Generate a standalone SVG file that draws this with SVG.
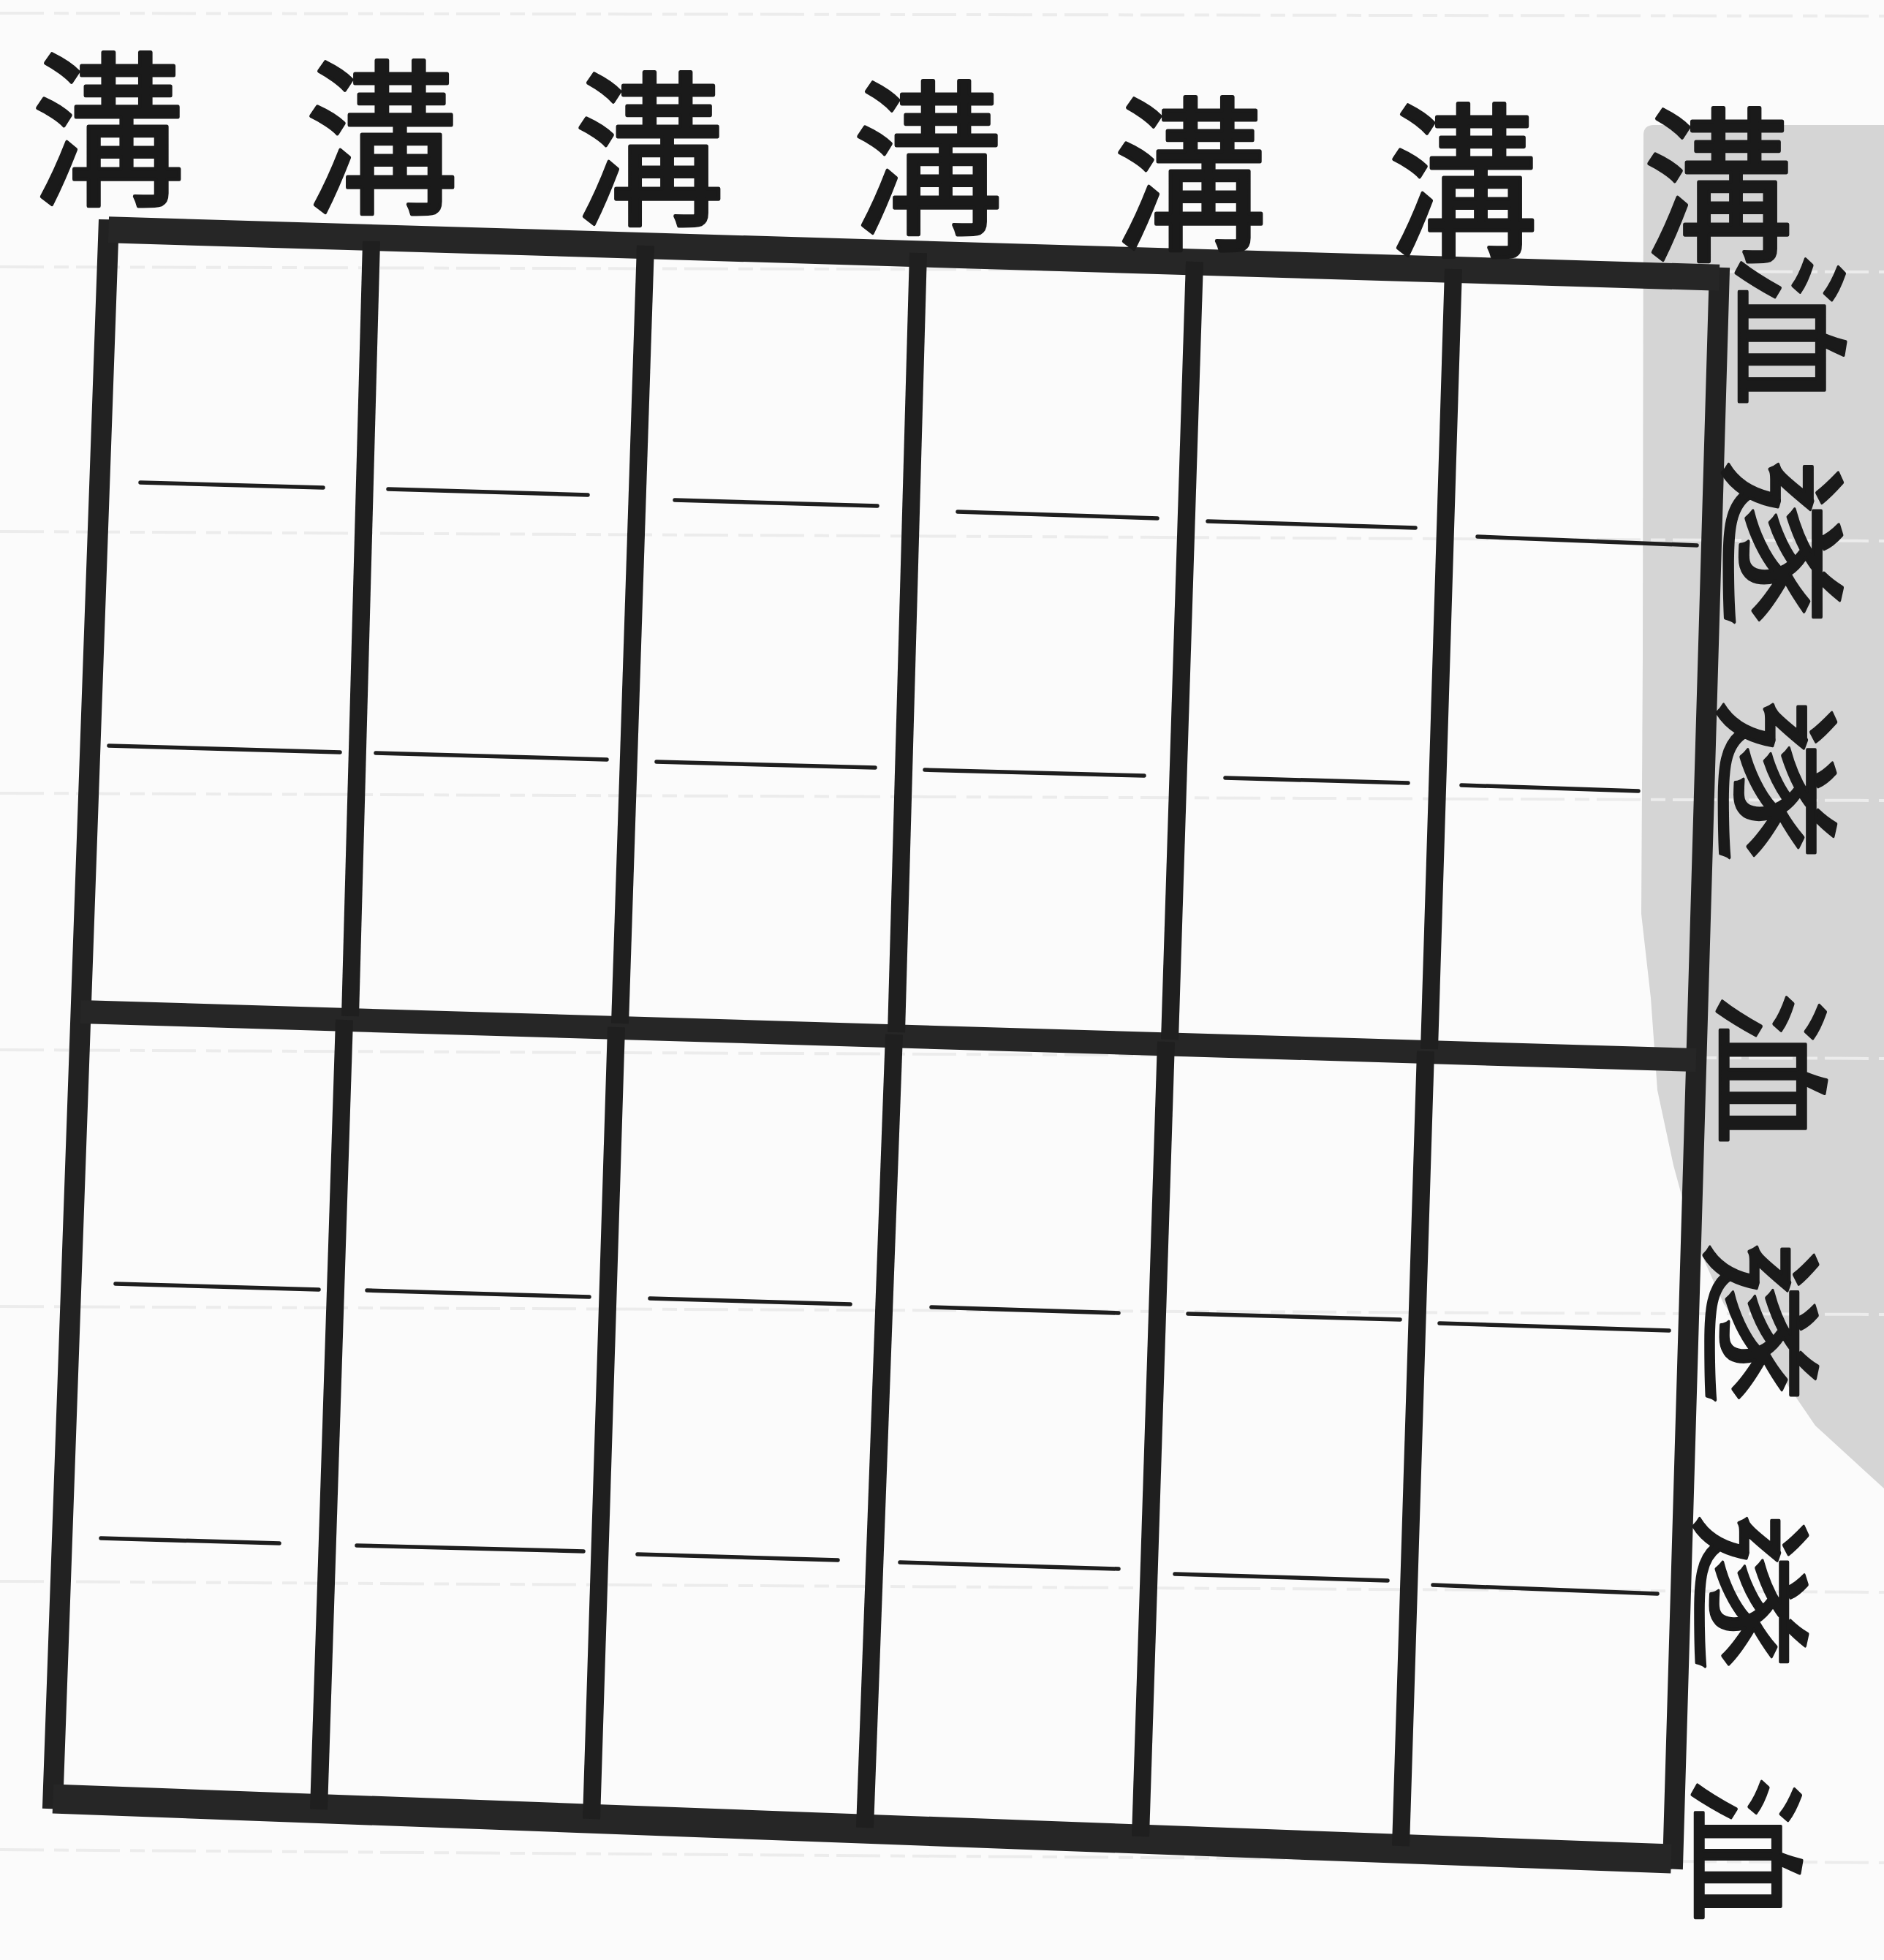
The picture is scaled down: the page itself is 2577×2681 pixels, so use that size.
<svg xmlns="http://www.w3.org/2000/svg" width="2577" height="2681" viewBox="0 0 2577 2681">
<style>
.bg{fill:#fbfbfb}
.patch{fill:#d5d5d5}
.faint{stroke:#ececec;stroke-width:4;fill:none;stroke-dasharray:60 14 20 10}
.frame{stroke:#222;stroke-width:28;stroke-linejoin:miter;fill:none}
.edge{stroke:#262626;stroke-linecap:butt;fill:none}
.thick{stroke:#262626;stroke-width:32;stroke-linecap:butt;fill:none}
.div{stroke:#1f1f1f;stroke-width:24;stroke-linecap:butt;fill:none}
.thin{stroke:#1e1e1e;stroke-width:5.5;stroke-linecap:round;fill:none}
.lbl{font-family:"Noto Sans CJK TC","Noto Sans CJK SC",sans-serif;font-weight:400;fill:#1a1a1a;stroke:#1a1a1a;stroke-width:5;stroke-linejoin:round;text-anchor:middle}
.top{font-size:228px}
.side{font-size:235px}
</style>
<rect class="bg" x="0" y="0" width="2577" height="2681"/>
<g id="paper-patch">
<path class="patch" d="M2248,185 Q2248,171 2262,171 L2577,171 L2577,2036 L2483,1950 L2440,1887 L2358,1784 L2314,1686 L2289,1594 L2267,1491 L2258,1365 L2245,1250 L2247,900 Z"/>
</g>
<g id="scan-lines">
<path class="faint" d="M0,18 L2577,22"/>
<path class="faint" d="M0,365 L2577,372"/>
<path class="faint" d="M0,727 L2577,740"/>
<path class="faint" d="M0,1085 L2577,1095"/>
<path class="faint" d="M0,1436 L2577,1448"/>
<path class="faint" d="M0,1787 L2577,1798"/>
<path class="faint" d="M0,2163 L2577,2178"/>
<path class="faint" d="M0,2530 L2577,2548"/>
</g>
<g id="field-grid">
<g id="outer-border">
<path class="frame" d="M148.5,314.3 L2351.7,379.8 L2288.3,2542.7 L72.4,2460.4 Z"/>
<line class="edge" stroke-width="36" x1="148.5" y1="314.3" x2="2351.7" y2="379.8"/>
<line class="edge" stroke-width="40" x1="72.4" y1="2460.4" x2="2286" y2="2542.6"/>
</g>
<g id="middle-ditch">
<line class="thick" x1="110" y1="1384" x2="2320" y2="1450"/>
</g>
<g id="dividers">
<line class="div" x1="508" y1="330" x2="479" y2="1390"/>
<line class="div" x1="471" y1="1395" x2="436" y2="2475"/>
<line class="div" x1="883" y1="336" x2="848" y2="1400"/>
<line class="div" x1="843" y1="1405" x2="809" y2="2488"/>
<line class="div" x1="1256" y1="346" x2="1226" y2="1412"/>
<line class="div" x1="1223" y1="1415" x2="1183" y2="2500"/>
<line class="div" x1="1634" y1="358" x2="1600" y2="1422"/>
<line class="div" x1="1595" y1="1425" x2="1560" y2="2512"/>
<line class="div" x1="1988" y1="368" x2="1955" y2="1435"/>
<line class="div" x1="1950" y1="1438" x2="1916" y2="2525"/>
</g>
<g id="thin-rows">
<line class="thin" x1="192" y1="660" x2="442" y2="667"/>
<line class="thin" x1="531" y1="669" x2="804" y2="677"/>
<line class="thin" x1="923" y1="684" x2="1200" y2="692"/>
<line class="thin" x1="1310" y1="700" x2="1583" y2="709"/>
<line class="thin" x1="1652" y1="713" x2="1936" y2="722"/>
<line class="thin" x1="2021" y1="734" x2="2321" y2="746"/>

<line class="thin" x1="149" y1="1020" x2="465" y2="1029"/>
<line class="thin" x1="514" y1="1030" x2="830" y2="1039"/>
<line class="thin" x1="898" y1="1042" x2="1197" y2="1050"/>
<line class="thin" x1="1265" y1="1053" x2="1565" y2="1061"/>
<line class="thin" x1="1676" y1="1064" x2="1926" y2="1071"/>
<line class="thin" x1="1999" y1="1074" x2="2241" y2="1082"/>

<line class="thin" x1="158" y1="1756" x2="436" y2="1764"/>
<line class="thin" x1="502" y1="1765" x2="806" y2="1774"/>
<line class="thin" x1="889" y1="1776" x2="1163" y2="1784"/>
<line class="thin" x1="1274" y1="1788" x2="1530" y2="1796"/>
<line class="thin" x1="1625" y1="1797" x2="1915" y2="1805"/>
<line class="thin" x1="1969" y1="1810" x2="2283" y2="1820"/>

<line class="thin" x1="138" y1="2104" x2="382" y2="2111"/>
<line class="thin" x1="488" y1="2114" x2="798" y2="2122"/>
<line class="thin" x1="872" y1="2126" x2="1146" y2="2134"/>
<line class="thin" x1="1231" y1="2137" x2="1530" y2="2146"/>
<line class="thin" x1="1607" y1="2153" x2="1898" y2="2162"/>
<line class="thin" x1="1960" y1="2168" x2="2267" y2="2180"/>
</g>
</g>
<g id="top-labels">
<text class="lbl top" transform="translate(148,178) scale(0.92,1)" x="0" y="86">溝</text>
<text class="lbl top" transform="translate(522,189) scale(0.92,1)" x="0" y="86">溝</text>
<text class="lbl top" transform="translate(888,205) scale(0.9,1)" x="0" y="86">溝</text>
<text class="lbl top" transform="translate(1269,217) scale(0.9,1)" x="0" y="86">溝</text>
<text class="lbl top" transform="translate(1628,239) scale(0.92,1)" x="0" y="86">溝</text>
<text class="lbl top" transform="translate(2001,248) scale(0.9,1)" x="0" y="86">溝</text>
<text class="lbl top" transform="translate(2350,254) scale(0.9,1)" x="0" y="86">溝</text>
</g>
<g id="side-labels">
<text class="lbl side" transform="translate(2448,452) rotate(90) scale(0.9,0.7)" x="0" y="89">洫</text>
<text class="lbl side" transform="translate(2438,743) rotate(90) scale(0.98,0.76)" x="0" y="89">遂</text>
<text class="lbl side" transform="translate(2430,1068) rotate(90) scale(0.95,0.75)" x="0" y="89">遂</text>
<text class="lbl side" transform="translate(2422,1462) rotate(90) scale(0.9,0.7)" x="0" y="89">洫</text>
<text class="lbl side" transform="translate(2408,1810) rotate(90) scale(0.95,0.72)" x="0" y="89">遂</text>
<text class="lbl side" transform="translate(2394,2178) rotate(90) scale(0.92,0.72)" x="0" y="89">遂</text>
<text class="lbl side" transform="translate(2388,2530) rotate(90) scale(0.86,0.7)" x="0" y="89">洫</text>
</g>
</svg>
